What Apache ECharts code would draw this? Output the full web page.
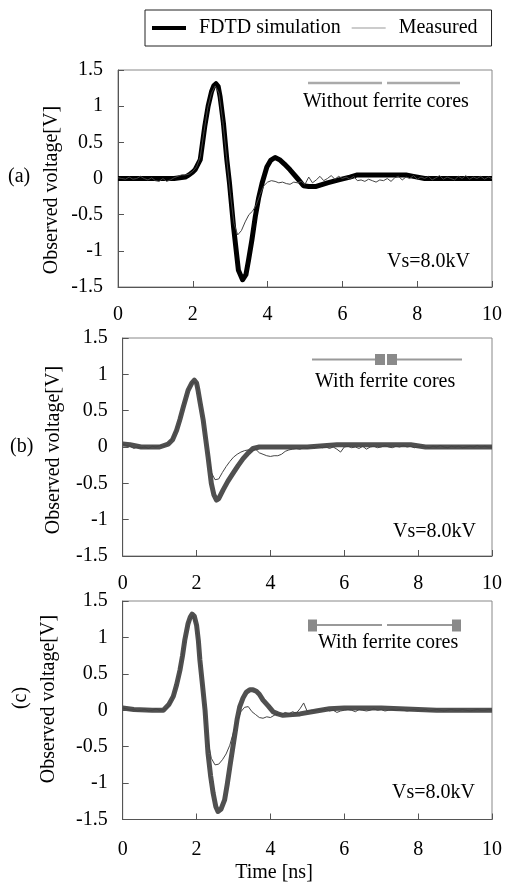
<!DOCTYPE html>
<html><head><meta charset="utf-8">
<script src="https://cdn.jsdelivr.net/npm/echarts@6/dist/echarts.min.js"></script>
<style>html,body{margin:0;padding:0;background:#fff}#c{width:505px;height:883px}</style>
</head><body><div id="c"></div>
<script>
// ---- data ----
const xTicks = [0, 2, 4, 6, 8, 10];
const yTicks = [-1.5, -1, -0.5, 0, 0.5, 1, 1.5];
const seriesNames = ['FDTD simulation', 'Measured'];
const panelLabels = ['(a)', '(b)', '(c)'];
const panelNotes = ['Without ferrite cores', 'With ferrite cores', 'With ferrite cores'];
const sourceVoltage = 'Vs=8.0kV';

// (a) FDTD simulation
const tA_fdtd = [0, 0.5, 1.0, 1.5, 1.8, 1.9, 2.0, 2.06, 2.2, 2.32, 2.41, 2.5, 2.56, 2.62, 2.68, 2.73, 2.82, 2.91, 2.98, 3.09, 3.22, 3.33, 3.42, 3.49, 3.58, 3.67, 3.76, 3.85, 3.98, 4.08, 4.2, 4.32, 4.45, 4.6, 4.8, 4.96, 5.1, 5.3, 5.6, 5.9, 6.2, 6.4, 7.0, 7.7, 7.9, 8.2, 9.0, 10];
const vA_fdtd = [0, 0, 0, 0, 0.02, 0.05, 0.09, 0.12, 0.26, 0.72, 1.0, 1.2, 1.28, 1.31, 1.27, 1.13, 0.76, 0.26, -0.06, -0.67, -1.27, -1.40, -1.33, -1.13, -0.85, -0.53, -0.27, -0.07, 0.16, 0.25, 0.29, 0.26, 0.2, 0.12, 0.0, -0.10, -0.11, -0.11, -0.06, -0.02, 0.02, 0.05, 0.05, 0.05, 0.03, 0.0, 0, 0];
// (a) Measured, 0.1 ns step
const vA_meas = [0.01, 0.0, -0.01, 0.02, -0.01, 0.0, 0.03, 0.0, -0.02, 0.01, -0.03, -0.04, 0.0, -0.04, -0.02, 0.01, 0.03, 0.05, 0.05, 0.06,
  0.1, 0.16, 0.3, 0.65, 0.98, 1.18, 1.28, 1.18, 0.8, 0.3, -0.2, -0.62, -0.78, -0.72, -0.6, -0.5, -0.45, -0.36, -0.22, -0.1,
  -0.05, -0.03, -0.04, -0.06, -0.05, -0.07, -0.08, -0.05, -0.06, -0.04, -0.08, 0.02, -0.06, -0.02, 0.03, -0.03, 0.0, 0.04, -0.01, 0.03,
  0.0, 0.02, -0.01, 0.03, -0.03, -0.02, -0.04, -0.01, -0.03, -0.05, -0.02, -0.03, 0.0, -0.04, 0.01, 0.03, -0.02, 0.02, 0.0, 0.04,
  -0.01, 0.02, 0.0, 0.03, -0.02, 0.01, 0.04, -0.01, 0.02, 0.0, -0.02, 0.03, 0.0, 0.04, -0.01, 0.02, 0.0, 0.03, -0.01, 0.02, 0.0];

// (b) FDTD simulation
const tB_fdtd = [0, 0.2, 0.5, 1.0, 1.23, 1.35, 1.46, 1.55, 1.64, 1.77, 1.87, 1.94, 2.0, 2.04, 2.1, 2.18, 2.25, 2.31, 2.4, 2.47, 2.54, 2.6, 2.72, 2.85, 2.99, 3.12, 3.26, 3.4, 3.53, 3.7, 4.0, 5.0, 5.8, 6.5, 7.8, 8.2, 10];
const vB_fdtd = [0.04, 0.03, 0.0, 0.0, 0.04, 0.1, 0.23, 0.38, 0.55, 0.78, 0.88, 0.92, 0.88, 0.78, 0.6, 0.37, 0.1, -0.13, -0.5, -0.66, -0.73, -0.71, -0.59, -0.47, -0.36, -0.26, -0.16, -0.08, -0.02, 0.0, 0.0, 0.0, 0.03, 0.03, 0.03, 0.0, 0.0];
// (b) Measured, 0.1 ns step
const vB_meas = [0.04, 0.02, 0.01, -0.02, 0.0, -0.01, 0.0, -0.02, 0.01, 0.0, 0.02, 0.01, 0.03, 0.08, 0.17, 0.3, 0.48, 0.66, 0.82, 0.9,
  0.88, 0.62, 0.3, -0.05, -0.35, -0.45, -0.44, -0.35, -0.27, -0.2, -0.14, -0.1, -0.07, -0.05, -0.04, -0.06, -0.03, -0.08, -0.1, -0.12,
  -0.13, -0.12, -0.12, -0.1, -0.06, -0.04, -0.03, -0.02, -0.03, -0.01, -0.02, 0.0, -0.01, 0.01, -0.01, 0.0, -0.02, 0.0, -0.03, -0.07,
  0.0, 0.01, -0.01, 0.0, -0.02, 0.01, -0.03, 0.0, 0.01, -0.01, 0.0, 0.02, 0.0, -0.01, 0.01, 0.0, 0.02, 0.0, 0.01, -0.01,
  0.0, 0.01, 0.0, -0.01, 0.01, 0.0, 0.02, 0.0, -0.01, 0.01, 0.0, 0.01, -0.01, 0.0, 0.01, 0.0, 0.02, 0.0, 0.01, 0.0, 0.0];

// (c) FDTD simulation
const tC_fdtd = [0, 0.3, 0.8, 1.1, 1.25, 1.37, 1.46, 1.55, 1.62, 1.68, 1.77, 1.83, 1.88, 1.94, 2.0, 2.05, 2.09, 2.16, 2.23, 2.31, 2.38, 2.45, 2.52, 2.58, 2.66, 2.76, 2.83, 2.9, 2.97, 3.04, 3.1, 3.17, 3.26, 3.35, 3.44, 3.53, 3.62, 3.7, 3.8, 3.94, 4.07, 4.2, 4.34, 4.6, 4.8, 5.24, 5.6, 6.0, 7.0, 7.5, 8.5, 10];
const vC_fdtd = [0.03, 0.01, 0.0, 0.0, 0.08, 0.19, 0.35, 0.55, 0.75, 0.96, 1.19, 1.28, 1.32, 1.29, 1.17, 0.95, 0.69, 0.35, 0.0, -0.59, -0.9, -1.14, -1.32, -1.39, -1.36, -1.23, -1.02, -0.78, -0.55, -0.32, -0.12, 0.05, 0.17, 0.25, 0.28, 0.28, 0.26, 0.22, 0.14, 0.06, -0.02, -0.05, -0.07, -0.06, -0.05, -0.01, 0.02, 0.03, 0.03, 0.02, 0.0, 0.0];
// (c) Measured, 0.1 ns step
const vC_meas = [0.03, 0.02, 0.0, 0.01, -0.01, 0.0, 0.01, -0.01, 0.0, 0.02, 0.0, 0.01, 0.03, 0.1, 0.24, 0.42, 0.7, 1.02, 1.24, 1.3,
  1.17, 0.65, 0.1, -0.4, -0.66, -0.75, -0.74, -0.68, -0.6, -0.48, -0.3, -0.15, -0.02, 0.04, 0.05, -0.02, -0.06, -0.1, -0.11, -0.09,
  -0.1, -0.07, -0.05, -0.06, -0.03, -0.05, -0.02, -0.04, 0.02, 0.1, -0.02, 0.0, -0.01, 0.01, 0.0, 0.02, -0.01, 0.0, -0.03, -0.01,
  0.0, 0.01, 0.0, -0.02, 0.01, 0.0, -0.01, 0.0, 0.02, 0.0, 0.01, -0.01, 0.0, 0.01, 0.0, 0.01, 0.0, -0.01, 0.0, 0.01,
  0.0, 0.0, 0.01, -0.01, 0.0, 0.01, 0.0, -0.01, 0.0, 0.01, 0.0, 0.0, 0.01, 0.0, -0.01, 0.0, 0.01, 0.0, 0.0, 0.01, 0.0];

// ---- build ----
const measT = vA_meas.map((_, i) => +(i * 0.1).toFixed(1));
const zip = (t, v) => t.map((x, i) => [x, v[i]]);
const FONT = '"Liberation Serif", "Times New Roman", serif';

const grids = [
  { left: 118, top: 70, width: 374.7, height: 217 },
  { left: 122.7, top: 338, width: 370, height: 218 },
  { left: 122.7, top: 601, width: 370, height: 218.5 }
];
const labelMargins = [18, 18, 20];

const xAxes = grids.map((g, i) => ({
  type: 'value', gridIndex: i, min: xTicks[0], max: xTicks[xTicks.length - 1], interval: 2,
  axisLine: { show: true, onZero: false, lineStyle: { color: '#555', width: 1 } },
  axisTick: { show: true, inside: true, length: 6, lineStyle: { color: '#555' } },
  axisLabel: { color: '#000', fontSize: 20, fontFamily: FONT, margin: labelMargins[i] },
  splitLine: { show: false }
}));
const yAxes = grids.map((g, i) => ({
  type: 'value', gridIndex: i, min: yTicks[0], max: yTicks[yTicks.length - 1], interval: 0.5,
  axisLine: { show: true, onZero: false, lineStyle: { color: '#555', width: 1 } },
  axisTick: { show: true, inside: true, length: 6, lineStyle: { color: '#555' } },
  axisLabel: { color: '#000', fontSize: 20, fontFamily: FONT, margin: 15 },
  splitLine: { show: false }
}));

const fdtdColors = ['#000', '#505050', '#505050'];
const fdtdData = [zip(tA_fdtd, vA_fdtd), zip(tB_fdtd, vB_fdtd), zip(tC_fdtd, vC_fdtd)];
const measData = [zip(measT, vA_meas), zip(measT, vB_meas), zip(measT, vC_meas)];
const series = [];
for (let i = 0; i < 3; i++) {
  series.push({
    name: seriesNames[0], type: 'line', xAxisIndex: i, yAxisIndex: i, data: fdtdData[i],
    symbol: 'none', lineStyle: { color: fdtdColors[i], width: 5, join: 'round' }, itemStyle: { color: fdtdColors[i] },
    animation: false, z: 2
  });
  series.push({
    name: seriesNames[1], type: 'line', xAxisIndex: i, yAxisIndex: i, data: measData[i],
    symbol: 'none', lineStyle: { color: '#444', width: 1 }, itemStyle: { color: '#999' },
    animation: false, z: 3
  });
}

const txt = (text, x, y, opts = {}) => ({
  type: 'text', x, y, rotation: opts.rot || 0, z: 100,
  style: { text, fill: '#000', font: '20px ' + FONT, textAlign: opts.align || 'left', textVerticalAlign: 'middle' }
});
const ln = (x1, y1, x2, y2, c, w) => ({ type: 'line', z: 100, shape: { x1, y1, x2, y2 }, style: { stroke: c, lineWidth: w } });
const box = (x, y, w, h) => ({ type: 'rect', z: 101, shape: { x, y, width: w, height: h }, style: { fill: '#8a8a8a' } });

const graphic = [
  txt(panelLabels[0], 8, 177),
  txt(panelLabels[1], 10, 447),
  txt(panelLabels[2], 21, 698, { rot: Math.PI / 2, align: 'center' }),
  txt('Observed voltage[V]', 52, 190, { rot: Math.PI / 2, align: 'center' }),
  txt('Observed voltage[V]', 54, 450, { rot: Math.PI / 2, align: 'center' }),
  txt('Observed voltage[V]', 49, 699, { rot: Math.PI / 2, align: 'center' }),
  txt('Time [ns]', 274, 873, { align: 'center' }),
  txt(panelNotes[0], 303, 102),
  txt(panelNotes[1], 315, 382),
  txt(panelNotes[2], 318, 643),
  txt(sourceVoltage, 387, 262),
  txt(sourceVoltage, 393, 532),
  txt(sourceVoltage, 392, 793),
  ln(308, 83, 382, 83, '#aaa', 2.5), ln(387, 83, 460, 83, '#aaa', 2.5),
  ln(312, 359.5, 376, 359.5, '#999', 2), ln(397, 359.5, 462, 359.5, '#999', 2),
  box(375, 354, 10, 11), box(387, 354, 10, 11),
  ln(317, 625, 382, 625, '#999', 2), ln(387, 625, 452, 625, '#999', 2),
  box(308, 619.5, 9, 12), box(452, 619.5, 9, 12)
];

const chart = echarts.init(document.getElementById('c'), null, { renderer: 'canvas' });
chart.setOption({
  backgroundColor: '#fff',
  animation: false,
  legend: {
    data: [
      { name: seriesNames[0], icon: 'path://M0,0H34V4H0Z', itemStyle: { color: '#000' } },
      { name: seriesNames[1], icon: 'path://M0,0H32V1H0Z', itemStyle: { color: '#999' } }
    ],
    left: 145, top: 10, orient: 'horizontal',
    padding: [8, 14, 8, 7], itemGap: 11, itemWidth: 34, itemHeight: 14,
    borderColor: '#222', borderWidth: 1,
    textStyle: { color: '#000', fontSize: 20, fontFamily: FONT, padding: [0, 0, 0, 8] }
  },
  grid: grids.map(g => Object.assign({ show: true, borderColor: '#888', borderWidth: 1, backgroundColor: 'transparent', containLabel: false }, g)),
  xAxis: xAxes,
  yAxis: yAxes,
  series,
  graphic
});
</script></body></html>
